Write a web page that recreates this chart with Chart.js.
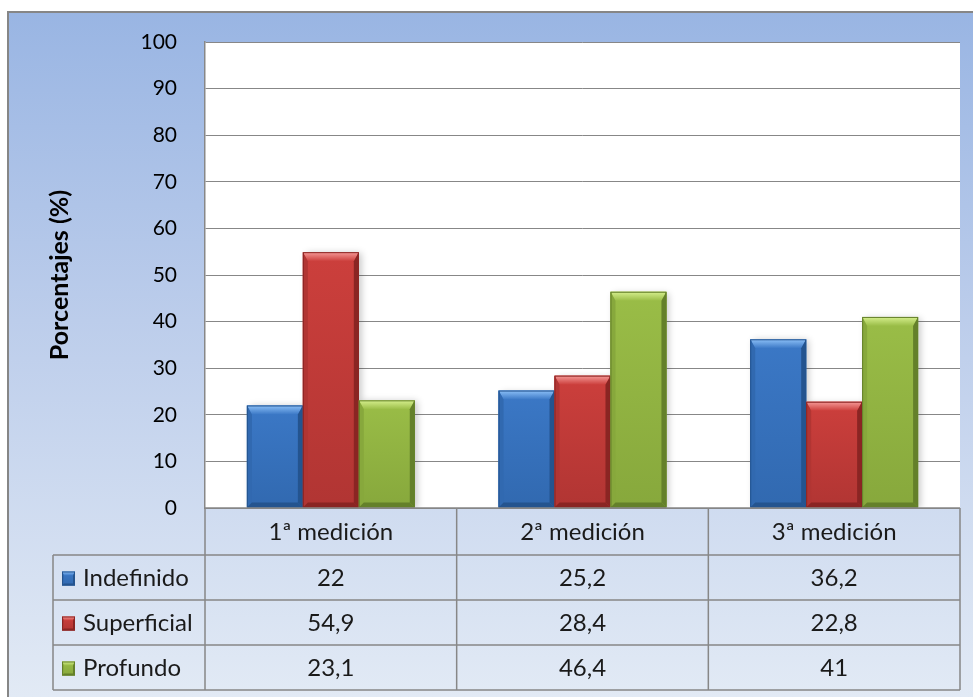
<!DOCTYPE html>
<html>
<head>
<meta charset="utf-8">
<script src="https://cdn.jsdelivr.net/npm/chart.js@4/dist/chart.umd.min.js"></script>
<style>
  html, body { margin: 0; padding: 0; background: #ffffff; }
  #wrap { width: 973px; height: 697px; position: relative; }
</style>
</head>
<body>
<div id="wrap"><canvas id="c" width="973" height="697"></canvas></div>
<script>
// Categories and series
const categories = ['1ª medición', '2ª medición', '3ª medición'];
const seriesNames = ['Indefinido', 'Superficial', 'Profundo'];
const indefinido = [22, 25.2, 36.2];
const superficial = [54.9, 28.4, 22.8];
const profundo = [23.1, 46.4, 41];
const yTicks = [0, 10, 20, 30, 40, 50, 60, 70, 80, 90, 100];
const yTitle = 'Porcentajes (%)';

// Colour sets per series: main fill, light top edge, dark edge
const palette = [
  { main: '#3b78c6', light: '#8cc0f7', dark: '#24548f', side: '#3169b0' },
  { main: '#cc3f3c', light: '#f59a98', dark: '#8a2523', side: '#b13533' },
  { main: '#9abd47', light: '#d6ef8e', dark: '#64802a', side: '#87a83c' }
];

const TABLE_FONT = '24px Lato, "Open Sans", sans-serif';
const GRID = '#878787';

function fmt(v) { return String(v).replace('.', ','); }

// Frame and background gradient
const backdrop = {
  id: 'backdrop',
  beforeDraw(chart) {
    const ctx = chart.ctx;
    const W = chart.width, H = chart.height;
    ctx.save();
    ctx.fillStyle = '#ffffff';
    ctx.fillRect(0, 0, W, H);
    const g = ctx.createLinearGradient(0, 12, 0, H);
    g.addColorStop(0, '#99b5e3');
    g.addColorStop(0.45, '#bccdeb');
    g.addColorStop(1, '#e2eaf5');
    ctx.fillStyle = g;
    ctx.fillRect(8, 12, W - 8, H - 12);
    ctx.strokeStyle = '#868686';
    ctx.lineWidth = 2;
    ctx.beginPath();
    ctx.moveTo(8, H);
    ctx.lineTo(8, 12);
    ctx.lineTo(W, 12);
    ctx.stroke();
    const a = chart.chartArea;
    ctx.fillStyle = '#ffffff';
    ctx.fillRect(a.left, a.top, a.right - a.left, a.bottom - a.top);
    ctx.restore();
  }
};

// Soft drop shadow behind the bars
const barShadow = {
  id: 'barShadow',
  beforeDatasetDraw(chart) {
    const ctx = chart.ctx;
    ctx.save();
    ctx.shadowColor = 'rgba(0,0,0,0.22)';
    ctx.shadowBlur = 7;
    ctx.shadowOffsetX = 3;
    ctx.shadowOffsetY = 1;
  },
  afterDatasetDraw(chart) {
    chart.ctx.restore();
  }
};

function poly(ctx, pts, fill) {
  ctx.beginPath();
  ctx.moveTo(pts[0][0], pts[0][1]);
  for (let i = 1; i < pts.length; i++) ctx.lineTo(pts[i][0], pts[i][1]);
  ctx.closePath();
  ctx.fillStyle = fill;
  ctx.fill();
}

function bevelRect(ctx, l, t, r, b, col, s, st, sb) {
  // body shading
  const body = ctx.createLinearGradient(0, t, 0, b);
  body.addColorStop(0, col.main);
  body.addColorStop(1, col.side);
  ctx.fillStyle = body;
  ctx.fillRect(l, t, r - l, b - t);
  // top edge
  const gt = ctx.createLinearGradient(0, t, 0, t + st);
  gt.addColorStop(0, col.light);
  gt.addColorStop(1, col.main);
  poly(ctx, [[l, t], [r, t], [r - s, t + st], [l + s, t + st]], gt);
  // left edge
  poly(ctx, [[l, t], [l + s, t + st], [l + s, b - sb], [l, b]], col.side);
  // right edge
  poly(ctx, [[r, t], [r - s, t + st], [r - s, b - sb], [r, b]], col.dark);
  // bottom edge
  poly(ctx, [[l, b], [l + s, b - sb], [r - s, b - sb], [r, b]], col.dark);
  ctx.strokeStyle = col.dark;
  ctx.lineWidth = 1;
  ctx.strokeRect(l + 0.5, t + 0.5, r - l - 1, b - t - 1);
}

// Bevelled faces on top of each bar element
const bevel = {
  id: 'bevel',
  afterDatasetsDraw(chart) {
    const ctx = chart.ctx;
    ctx.save();
    chart.data.datasets.forEach((ds, di) => {
      const meta = chart.getDatasetMeta(di);
      const col = palette[di];
      meta.data.forEach(el => {
        const p = el.getProps(['x', 'y', 'base', 'width'], true);
        const l = p.x - p.width / 2, r = p.x + p.width / 2;
        const t = Math.min(p.y, p.base), b = Math.max(p.y, p.base);
        bevelRect(ctx, l, t, r, b, col, 5, 9, 5);
      });
    });
    ctx.restore();
  }
};

// Data table below the plot area
const dataTable = {
  id: 'dataTable',
  afterDraw(chart) {
    const ctx = chart.ctx;
    const a = chart.chartArea;
    const xs = chart.scales.x;
    const n = categories.length;
    const colW = (a.right - a.left) / n;
    const legendLeft = 53;
    const top = a.bottom;
    const headH = 47, rowH = 45;
    const rowsTop = top + headH;
    const bottom = rowsTop + rowH * seriesNames.length;

    ctx.save();
    ctx.strokeStyle = GRID;
    ctx.lineWidth = 1.5;
    ctx.beginPath();
    ctx.moveTo(a.left, top); ctx.lineTo(a.right, top);
    for (let i = 0; i <= seriesNames.length; i++) {
      const y = rowsTop + rowH * i;
      ctx.moveTo(legendLeft, y); ctx.lineTo(a.right, y);
    }
    ctx.moveTo(legendLeft, rowsTop); ctx.lineTo(legendLeft, bottom);
    for (let i = 0; i <= n; i++) {
      const x = a.left + colW * i;
      ctx.moveTo(x, top); ctx.lineTo(x, bottom);
    }
    ctx.stroke();

    ctx.fillStyle = '#1a1a1a';
    ctx.font = TABLE_FONT;
    ctx.textAlign = 'center';
    ctx.textBaseline = 'middle';
    categories.forEach((c, i) => {
      ctx.fillText(c, xs.getPixelForValue(i), top + headH / 2 + 1);
    });

    const series = [indefinido, superficial, profundo];
    series.forEach((vals, si) => {
      const cy = rowsTop + rowH * si + rowH / 2 + 1;
      vals.forEach((v, i) => {
        ctx.fillStyle = '#1a1a1a';
        ctx.textAlign = 'center';
        ctx.fillText(fmt(v), xs.getPixelForValue(i), cy);
      });
      // legend key
      bevelRect(ctx, 62, cy - 7, 75, cy + 7, palette[si], 2, 4, 2);
      ctx.fillStyle = '#1a1a1a';
      ctx.textAlign = 'left';
      ctx.fillText(seriesNames[si], 83, cy);
    });
    ctx.restore();
  }
};

const ctx = document.getElementById('c').getContext('2d');
new Chart(ctx, {
  type: 'bar',
  data: {
    labels: categories,
    datasets: [
      { label: seriesNames[0], data: indefinido, backgroundColor: palette[0].main },
      { label: seriesNames[1], data: superficial, backgroundColor: palette[1].main },
      { label: seriesNames[2], data: profundo, backgroundColor: palette[2].main }
    ]
  },
  options: {
    responsive: false,
    animation: false,
    devicePixelRatio: 1,
    layout: { padding: { left: 45, top: 42, right: 13, bottom: 189 } },
    datasets: { bar: { categoryPercentage: 0.667, barPercentage: 1.0 } },
    plugins: {
      legend: { display: false },
      tooltip: { enabled: false },
      title: { display: false }
    },
    scales: {
      x: { display: false },
      y: {
        min: 0, max: 100,
        afterFit(scale) { scale.width = 160; },
        afterBuildTicks(scale) { scale.ticks = yTicks.map(v => ({ value: v })); },
        grid: { color: GRID, lineWidth: 1, drawTicks: false },
        border: { display: true, color: GRID, width: 1.5 },
        ticks: {
          padding: 28,
          color: '#000000',
          font: { family: 'Lato, "Open Sans", sans-serif', size: 21 }
        },
        title: {
          display: true,
          text: yTitle,
          color: '#000000',
          padding: { top: 0, bottom: 0 },
          font: { family: 'Lato, "Open Sans", sans-serif', size: 25, weight: 'bold' }
        }
      }
    }
  },
  plugins: [backdrop, barShadow, bevel, dataTable]
});
</script>
</body>
</html>
